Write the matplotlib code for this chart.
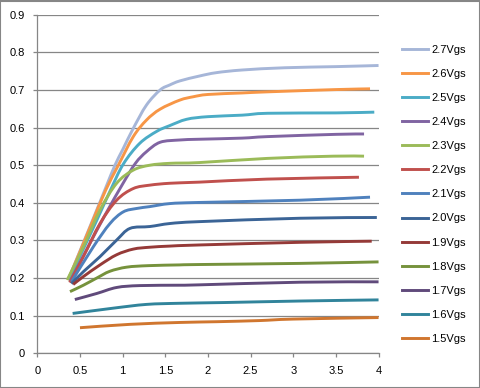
import matplotlib
matplotlib.use("Agg")
import numpy as np
import matplotlib.pyplot as plt
from matplotlib.patches import Rectangle, PathPatch
from matplotlib.path import Path
from matplotlib.lines import Line2D

plt.rcParams["font.family"] = ["Liberation Sans", "DejaVu Sans"]

# 读图估值:漏极电流 vs Vds,每条曲线一个 Vgs
labels = ["2.7Vgs", "2.6Vgs", "2.5Vgs", "2.4Vgs", "2.3Vgs", "2.2Vgs", "2.1Vgs",
          "2.0Vgs", "1.9Vgs", "1.8Vgs", "1.7Vgs", "1.6Vgs", "1.5Vgs"]
colors = ["#A6B6D8", "#F79646", "#4BACC6", "#8064A2", "#9BBB59", "#C0504D", "#4F81BD",
          "#3B6496", "#953A38", "#76923C", "#604A7B", "#31849B", "#D0762F"]

x27 = [0.37, 0.5, 0.65, 0.8, 0.91, 1.0, 1.125, 1.28, 1.44, 1.55, 1.67, 1.9, 2.1, 2.4, 2.9, 3.5, 4.0]
y27 = [0.2, 0.272, 0.355, 0.439, 0.5, 0.541, 0.598, 0.66, 0.70, 0.713, 0.724, 0.737, 0.746, 0.753, 0.759, 0.762, 0.765]
x26 = [0.36, 0.5, 0.65, 0.8, 0.95, 1.125, 1.28, 1.44, 1.67, 1.83, 2.0, 2.4, 2.7, 3.5, 3.9]
y26 = [0.195, 0.27, 0.352, 0.433, 0.5, 0.576, 0.62, 0.649, 0.673, 0.682, 0.688, 0.692, 0.695, 0.701, 0.703]
x25 = [0.37, 0.5, 0.7, 0.85, 1.008, 1.2, 1.4, 1.55, 1.75, 2.0, 2.4, 2.7, 3.5, 3.95]
y25 = [0.195, 0.258, 0.355, 0.43, 0.503, 0.558, 0.59, 0.605, 0.622, 0.629, 0.633, 0.638, 0.639, 0.641]
x24 = [0.38, 0.6, 0.8, 1.0, 1.15, 1.28, 1.44, 1.67, 1.9, 2.4, 2.7, 3.5, 3.83]
y24 = [0.19, 0.285, 0.37, 0.45, 0.505, 0.536, 0.561, 0.567, 0.569, 0.572, 0.576, 0.582, 0.583]
x23 = [0.35, 0.54, 0.735, 0.93, 1.125, 1.32, 1.555, 1.9, 2.69, 3.47, 3.83]
y23 = [0.195, 0.283, 0.381, 0.452, 0.487, 0.5, 0.505, 0.507, 0.518, 0.524, 0.524]
x22 = [0.38, 0.54, 0.735, 0.93, 1.125, 1.32, 1.555, 1.9, 2.69, 3.77]
y22 = [0.188, 0.257, 0.345, 0.407, 0.438, 0.447, 0.452, 0.455, 0.463, 0.468]
x21 = [0.4, 0.656, 0.852, 1.008, 1.165, 1.32, 1.555, 1.9, 3.08, 3.9]
y21 = [0.19, 0.283, 0.345, 0.376, 0.385, 0.39, 0.398, 0.401, 0.407, 0.415]
x20 = [0.4, 0.54, 0.735, 0.93, 1.086, 1.32, 1.555, 1.9, 3.08, 3.98]
y20 = [0.185, 0.217, 0.257, 0.301, 0.332, 0.337, 0.345, 0.35, 0.359, 0.361]
x19 = [0.42, 0.54, 0.735, 0.93, 1.125, 1.32, 1.555, 1.9, 3.08, 3.92]
y19 = [0.183, 0.204, 0.235, 0.262, 0.277, 0.282, 0.285, 0.288, 0.295, 0.298]
x18 = [0.383, 0.54, 0.696, 0.85, 1.047, 1.3, 1.67, 1.9, 3.08, 4.0]
y18 = [0.164, 0.181, 0.2, 0.218, 0.229, 0.233, 0.235, 0.236, 0.239, 0.243]
x17 = [0.44, 0.696, 0.93, 1.2, 1.67, 1.9, 3.08, 4.0]
y17 = [0.143, 0.159, 0.175, 0.18, 0.181, 0.182, 0.189, 0.19]
x16 = [0.414, 0.89, 1.28, 1.67, 2.2, 3.08, 4.0]
y16 = [0.106, 0.12, 0.13, 0.133, 0.135, 0.139, 0.142]
x15 = [0.5, 1.086, 1.67, 2.1, 2.6, 3.0, 4.0]
y15 = [0.068, 0.077, 0.082, 0.084, 0.087, 0.091, 0.095]

xs = [x27, x26, x25, x24, x23, x22, x21, x20, x19, x18, x17, x16, x15]
ys = [y27, y26, y25, y24, y23, y22, y21, y20, y19, y18, y17, y16, y15]

xticks = [0, 0.5, 1, 1.5, 2, 2.5, 3, 3.5, 4]
xticklabels = ["0", "0.5", "1", "1.5", "2", "2.5", "3", "3.5", "4"]
yticks = [0, 0.1, 0.2, 0.3, 0.4, 0.5, 0.6, 0.7, 0.8, 0.9]
yticklabels = ["0", "0.1", "0.2", "0.3", "0.4", "0.5", "0.6", "0.7", "0.8", "0.9"]

GRAY = "#868686"
LW = 2.1


def smooth_path(x, y):
    """Excel 式平滑线:经过每个数据点的 Catmull-Rom 贝塞尔曲线。"""
    p = np.column_stack([x, y]).astype(float)
    n = len(p)
    verts = [p[0]]; codes = [Path.MOVETO]
    for i in range(n - 1):
        p0 = p[i - 1] if i > 0 else p[i]
        p3 = p[i + 2] if i + 2 < n else p[i + 1]
        c1 = p[i] + (p[i + 1] - p0) / 6.0
        c2 = p[i + 1] - (p3 - p[i]) / 6.0
        verts += [c1, c2, p[i + 1]]
        codes += [Path.CURVE4] * 3
    return Path(verts, codes)


fig = plt.figure(figsize=(4.81, 3.88), dpi=100)
ax = fig.add_axes([0.0776, 0.0894, 0.7094, 0.8727])

handles = []
for x, y, c, lab in zip(xs, ys, colors, labels):
    ax.add_patch(PathPatch(smooth_path(x, y), facecolor="none", edgecolor=c,
                           lw=LW, joinstyle="round", capstyle="butt"))
    handles.append(Line2D([], [], color=c, lw=LW))

ax.set_xlim(0, 4); ax.set_ylim(0, 0.9)
ax.set_xticks(xticks); ax.set_xticklabels(xticklabels)
ax.set_yticks(yticks); ax.set_yticklabels(yticklabels)
ax.yaxis.grid(True, color=GRAY, lw=0.9)
ax.set_axisbelow(True)
for s in ("top", "right"):
    ax.spines[s].set_visible(False)
for s in ("left", "bottom"):
    ax.spines[s].set_color(GRAY); ax.spines[s].set_linewidth(0.9)
ax.tick_params(axis="both", direction="out", length=3, width=0.9, color=GRAY,
               labelsize=8, labelcolor="black", pad=6)

fig.legend(handles=handles, labels=labels, loc="upper left",
           bbox_to_anchor=(0.835, 0.885), frameon=False, fontsize=8,
           handlelength=2.37, handletextpad=0.27, labelspacing=1.27,
           borderpad=0, borderaxespad=0)

fig.add_artist(Rectangle((0.001, 0.001), 0.997, 0.997, transform=fig.transFigure,
                         fill=False, edgecolor=GRAY, lw=1.5))

fig.savefig("out.png", dpi=100)
